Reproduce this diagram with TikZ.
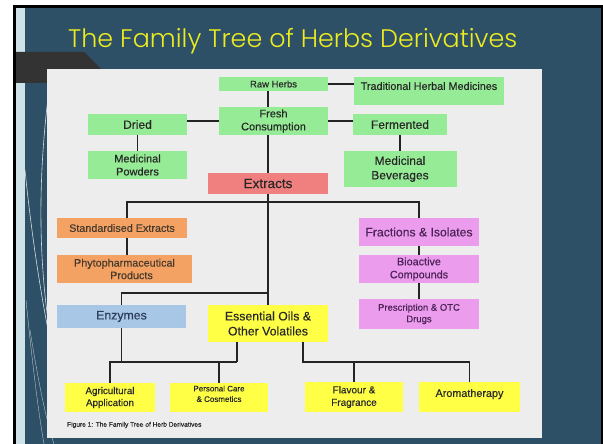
\documentclass[tikz,border=0pt]{standalone}
\usepackage{fontspec}
\setmainfont{Liberation Sans}[FakeBold=0.35]
\newfontfamily\titlefont{Poppins Light}
\usetikzlibrary{positioning,calc}
\definecolor{SlideBlue}{RGB}{45,80,102}
\definecolor{SlideStrip}{RGB}{207,226,232}
\definecolor{SlideBand}{RGB}{51,51,51}
\definecolor{PanelGray}{RGB}{237,237,237}
\definecolor{TitleYellow}{RGB}{236,236,32}
\definecolor{HerbGreen}{RGB}{150,236,150}
\definecolor{ExtractRed}{RGB}{240,128,128}
\definecolor{StdOrange}{RGB}{244,162,100}
\definecolor{EnzBlue}{RGB}{168,198,230}
\definecolor{OilYellow}{RGB}{255,255,70}
\definecolor{FracPink}{RGB}{236,156,236}
\definecolor{InkGray}{RGB}{40,40,40}
\definecolor{InkPurple}{RGB}{75,35,88}
\definecolor{InkBlue}{RGB}{45,62,92}

\begin{document}
\begin{tikzpicture}[
  x=1pt, y=-1pt,
  box/.style={inner sep=1pt, align=center, text=InkGray, font=\fontsize{11}{13}\selectfont},
  herb/.style={box, fill=HerbGreen},
  extract/.style={box, fill=ExtractRed, font=\fontsize{13.5}{15}\selectfont},
  stdx/.style={box, fill=StdOrange, text=InkGray!80!brown},
  enzyme/.style={box, fill=EnzBlue, text=InkBlue},
  oil/.style={box, fill=OilYellow},
  frac/.style={box, fill=FracPink, text=InkPurple},
  link/.style={draw=InkGray!90!black, line width=1.7pt}
]
\useasboundingbox (0,0) rectangle (603,444);
% slide frame and background
\fill[white] (0,0) rectangle (603,444);
\fill[black] (13,5) rectangle (603,444);
\fill[SlideBlue] (16,8) rectangle (601,444);
\fill[SlideStrip] (16,8) rectangle (25,444);
\fill[SlideBand] (16,52) -- (84,52) -- (103,71) -- (103,83) -- (16,83) -- cycle;
\begin{scope}[draw=white, line width=0.6pt, opacity=0.8]
  \draw (49,90) .. controls (40,160) and (37,240) .. (48,320);
  \draw (25,170) .. controls (31,230) and (40,290) .. (50,340);
  \draw[line width=0.3pt] (26,300) .. controls (32,360) and (38,410) .. (44,444);
  \draw[line width=0.3pt] (30,330) .. controls (38,380) and (46,420) .. (54,444);
\end{scope}
\fill[PanelGray] (47,69) rectangle (542,438);

\node[anchor=base west, text=TitleYellow, inner sep=0pt, font=\titlefont\fontsize{25.4}{28}\selectfont] (title) at (68,48) {The Family Tree of Herbs Derivatives};

% top rows
\node[herb, minimum width=109pt, minimum height=14pt, font=\fontsize{9.5}{11}\selectfont] (raw) at (273.5,84) {Raw Herbs};
\node[herb, minimum width=150pt, minimum height=28pt, font=\fontsize{10.8}{12}\selectfont] (thm) at (429,91) {Traditional Herbal Medicines\\[-2pt]\mbox{}};
\node[herb, minimum width=109pt, minimum height=28pt] (fresh) at (273.5,121) {Fresh\\Consumption};
\node[herb, minimum width=99pt, minimum height=21pt, font=\fontsize{12}{14}\selectfont] (dried) at (137.5,124.5) {Dried};
\node[herb, minimum width=94pt, minimum height=21pt, font=\fontsize{12}{14}\selectfont] (ferm) at (400,124.5) {Fermented};
\node[herb, minimum width=99pt, minimum height=28pt] (powder) at (137.5,165) {Medicinal\\Powders};
\node[herb, minimum width=113pt, minimum height=36pt, font=\fontsize{12}{14.5}\selectfont] (bev) at (400,169) {Medicinal\\Beverages};
\node[extract, minimum width=120pt, minimum height=21pt] (ext) at (268,183.5) {Extracts};

% middle
\node[stdx, minimum width=130pt, minimum height=20pt, font=\fontsize{10.8}{12}\selectfont] (std) at (122,228) {Standardised Extracts};
\node[stdx, minimum width=135pt, minimum height=28pt, font=\fontsize{10.8}{12.5}\selectfont] (phyto) at (124.5,269) {Phytopharmaceutical\\\hspace*{14pt}Products};
\node[enzyme, minimum width=129pt, minimum height=23pt, font=\fontsize{12.3}{14}\selectfont] (enz) at (121.5,316.5) {Enzymes};
\node[oil, minimum width=120pt, minimum height=37pt, font=\fontsize{12.3}{15}\selectfont] (eo) at (268,323.5) {Essential Oils \&\\Other Volatiles};
\node[frac, minimum width=120pt, minimum height=28pt, font=\fontsize{12.2}{14}\selectfont] (fracs) at (419,232) {Fractions \& Isolates};
\node[frac, minimum width=120pt, minimum height=28pt, font=\fontsize{10.8}{13}\selectfont] (bio) at (419,269) {Bioactive\\Compounds};
\node[frac, minimum width=120pt, minimum height=30pt, font=\fontsize{9.5}{11.5}\selectfont] (drugs) at (419,314) {Prescription \& OTC\\Drugs};

% bottom row
\node[oil, minimum width=90pt, minimum height=29pt, font=\fontsize{9.8}{12}\selectfont] (agri) at (110,397.5) {Agricultural\\Application};
\node[oil, minimum width=98pt, minimum height=29pt, font=\fontsize{8}{10.5}\selectfont] (care) at (219,397.5) {Personal Care\\\& Cosmetics\\[-3pt]\mbox{}};
\node[oil, minimum width=98pt, minimum height=30pt, font=\fontsize{10}{12.5}\selectfont] (flav) at (354,397) {Flavour \&\\Fragrance};
\node[oil, minimum width=101pt, minimum height=30pt, font=\fontsize{10.8}{12}\selectfont] (aroma) at (469.5,397) {Aromatherapy\\[-4pt]\mbox{}};
\node[anchor=west, inner sep=0pt, text=InkGray, font=\fontsize{6.6}{8}\selectfont] (cap) at (67,425) {Figure 1: The Family Tree of Herb Derivatives};

\coordinate (jL) at (237,362);
\coordinate (jR) at (303,362);

% connectors
\draw[link] (raw) -- (thm.west |- raw);
\draw[link] (raw.south -| ext) -- (fresh.north -| ext);
\draw[link] (fresh.south -| ext) -- (ext);
\draw[link] (dried.east |- fresh) -- (fresh);
\draw[link] (fresh) -- (ferm.west |- fresh);
\draw[link] (dried) -- (powder);
\draw[link] (ferm) -- (bev);
\draw[link] (ext) -- (eo);
\draw[link] ([xshift=5pt]std.north) -- ++(0,-16) -| (fracs.north);
\draw[link] ([xshift=5pt]std.south) -- ([xshift=5pt]std.south |- phyto.north);
\draw[link] (enz.north) -- ++(0,-12) -| (ext.south);
\draw[link] (fracs) -- (bio);
\draw[link] (bio) -- (drugs);
\draw[link] (eo.south -| jL) -- (jL);
\draw[link] (agri.north) |- (jL);
\draw[link] (care.north) -- (care.north |- jL);
\draw[link] (enz.south) -- (enz.south |- jL);
\draw[link] (eo.south -| jR) -- (jR) -| (aroma.north);
\draw[link] (flav.north) -- (flav.north |- jR);
\end{tikzpicture}
\end{document}
